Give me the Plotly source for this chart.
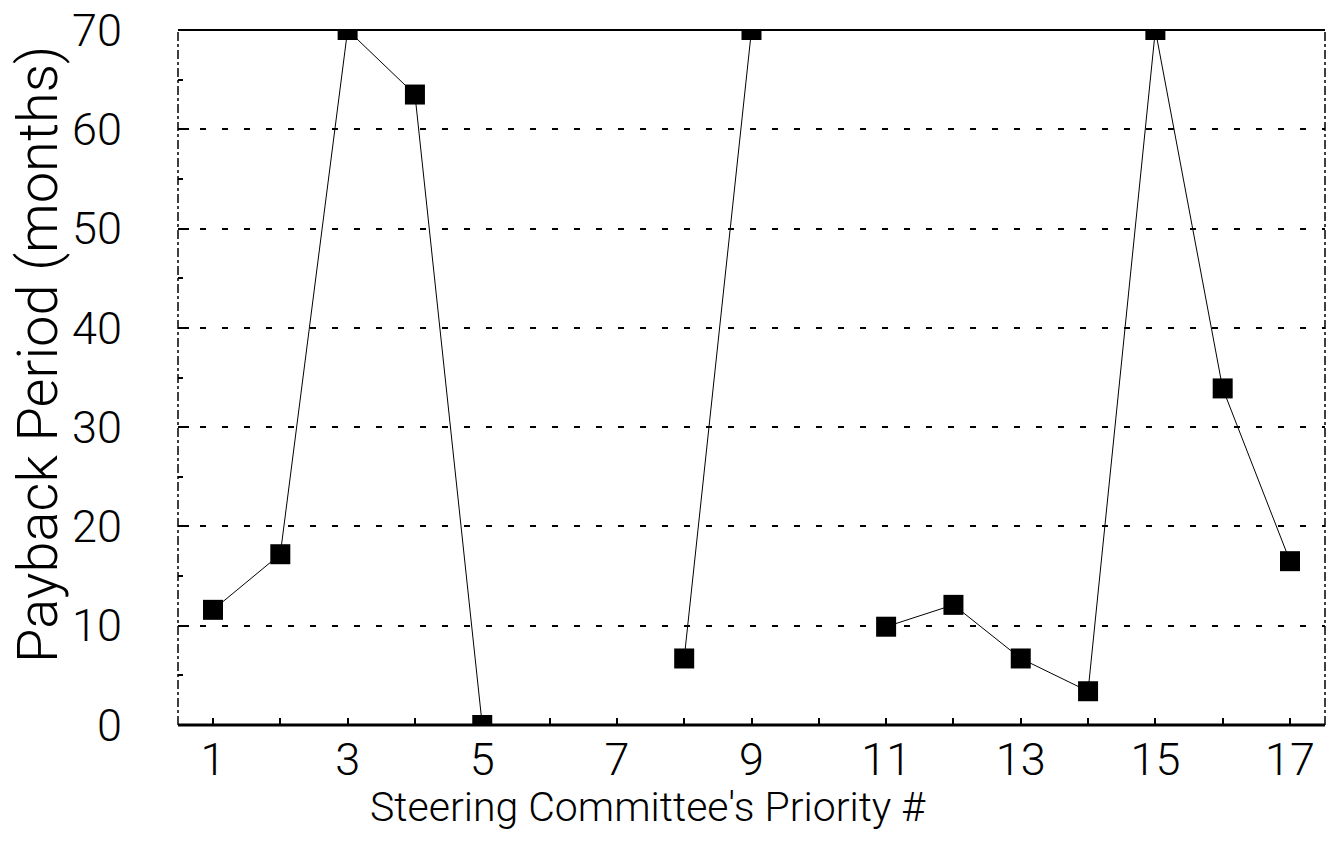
import plotly.graph_objects as go

priority = list(range(1, 18))
payback = [11.6, 17.2, 70, 63.5, 0, None, None, 6.7, 70, None, 9.9, 12.1, 6.7, 3.4, 70, 33.9, 16.5]
x_tick_vals = [1, 3, 5, 7, 9, 11, 13, 15, 17]
x_tick_text = ["1", "3", "5", "7", "9", "11", "13", "15", "17"]
y_tick_vals = [0, 10, 20, 30, 40, 50, 60, 70]
y_tick_text = ["0", "10", "20", "30", "40", "50", "60", "70"]
x_title = "Steering Committee's Priority #"
y_title = "Payback Period (months)"

FONT = "Roboto"
OFF = 8  # default page body margin
W, H = 1334 - OFF, 863 - 2 * OFF
L, R, T = 178 - OFF, 9, 30 - OFF
B = H - (725 - OFF)
PW, PH = W - L - R, H - T - B


def px_to_paper_x(px):
    return (px - OFF - L) / PW


def px_to_paper_y(py):
    return (H - B - (py - OFF)) / PH


fig = go.Figure()
fig.add_trace(go.Scatter(
    x=priority, y=payback, mode="lines+markers",
    line=dict(color="black", width=1),
    marker=dict(symbol="square", size=20, color="black"),
    connectgaps=False, showlegend=False, xaxis="x", yaxis="y",
))

tickfont = dict(size=45, family=FONT, color="black", weight=300)

fig.update_layout(
    width=W, height=H,
    margin=dict(l=L, r=R, t=T, b=B, autoexpand=False),
    paper_bgcolor="white", plot_bgcolor="white",
    font=dict(family=FONT, color="black"),
    xaxis=dict(
        range=[0.48, 17.52], tickmode="array", tickvals=x_tick_vals, ticktext=x_tick_text,
        ticks="inside", ticklen=7, tickwidth=1.5, tickcolor="black",
        minor=dict(dtick=1, tick0=0, ticks="inside", ticklen=7, tickwidth=1.5, tickcolor="black", showgrid=False),
        showgrid=False, zeroline=False, showline=False, automargin=False,
        tickfont=tickfont, ticklabelstandoff=4, ticklabeloverflow="allow",
    ),
    xaxis2=dict(
        overlaying="x", matches="x", range=[0.48, 17.52], anchor="y",
        tickmode="array", tickvals=x_tick_vals, ticktext=["" for _ in x_tick_vals],
        ticks="outside", ticklen=7, tickwidth=1.5, tickcolor="black",
        minor=dict(dtick=1, tick0=0, ticks="outside", ticklen=7, tickwidth=1.5, tickcolor="black", showgrid=False),
        showgrid=False, zeroline=False, showline=False, showticklabels=False, side="bottom", automargin=False,
    ),
    yaxis=dict(
        range=[0, 70], tickmode="array", tickvals=y_tick_vals, ticktext=y_tick_text,
        ticks="inside", ticklen=11, tickwidth=2, tickcolor="black",
        minor=dict(dtick=5, tick0=0, ticks="inside", ticklen=5, tickwidth=1.5, tickcolor="black", showgrid=False),
        showgrid=True, gridcolor="black", gridwidth=2, griddash="6px,16px",
        zeroline=False, showline=False, automargin=False,
        tickfont=tickfont, ticklabelstandoff=55, ticklabeloverflow="allow",
    ),
    yaxis2=dict(
        overlaying="y", matches="y", range=[0, 70], anchor="x", side="left",
        tickmode="array", tickvals=y_tick_vals, ticktext=["" for _ in y_tick_vals],
        ticks="outside", ticklen=11, tickwidth=2, tickcolor="black",
        minor=dict(dtick=5, tick0=0, ticks="outside", ticklen=5, tickwidth=1.5, tickcolor="black", showgrid=False),
        showgrid=False, zeroline=False, showline=False, showticklabels=False, automargin=False,
    ),
    shapes=[
        dict(type="line", xref="paper", yref="paper", x0=0, x1=1, y0=1, y1=1, line=dict(color="black", width=2), layer="above"),
        dict(type="line", xref="paper", yref="paper", x0=0, x1=1, y0=0, y1=0, line=dict(color="black", width=3), layer="above"),
        dict(type="line", xref="paper", yref="paper", x0=0, x1=0, y0=0, y1=1, line=dict(color="black", width=1.5, dash="dashdot"), layer="above"),
        dict(type="line", xref="paper", yref="paper", x0=1, x1=1, y0=0, y1=1, line=dict(color="black", width=1.5, dash="dashdot"), layer="above"),
    ],
    annotations=[
        dict(text=x_title, xref="paper", yref="paper", x=px_to_paper_x(648), y=px_to_paper_y(807),
             xanchor="center", yanchor="middle", showarrow=False,
             font=dict(size=41, family=FONT, color="black", weight=300)),
        dict(text=y_title, xref="paper", yref="paper", x=px_to_paper_x(38), y=px_to_paper_y(355),
             xanchor="center", yanchor="middle", showarrow=False, textangle=-90,
             font=dict(size=56, family=FONT, color="black", weight=300)),
    ],
)

fig.write_html("out.html")
